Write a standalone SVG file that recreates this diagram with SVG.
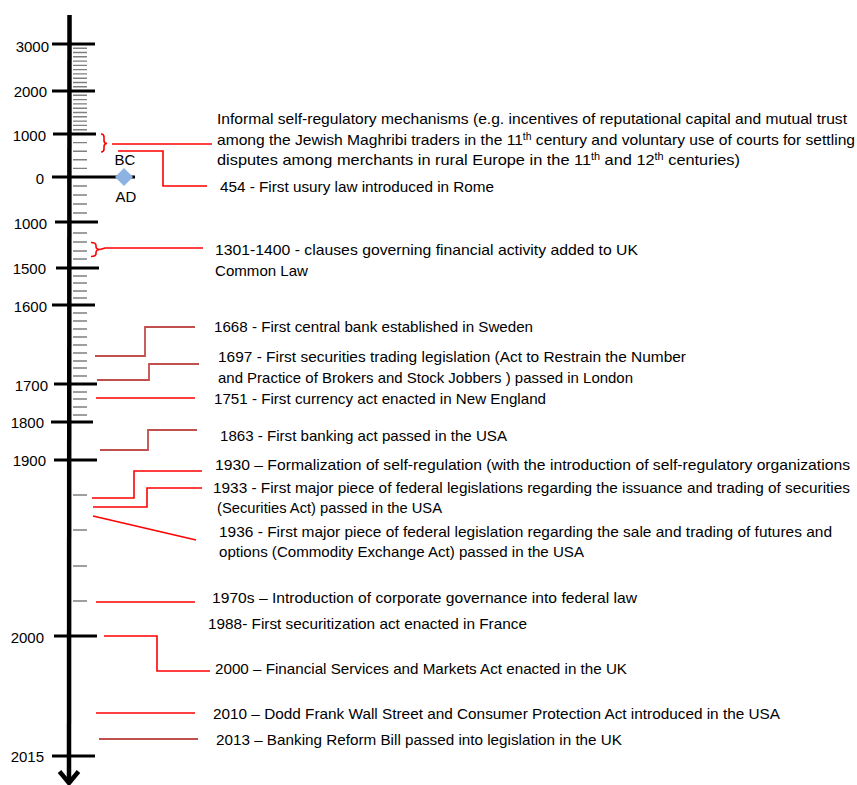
<svg xmlns="http://www.w3.org/2000/svg" width="857" height="785" viewBox="0 0 857 785">
<style>
.t{font-family:"Liberation Sans",Arial,sans-serif;font-size:15px;fill:#000}
.lbl{font-family:"Liberation Sans",Arial,sans-serif;font-size:15px;fill:#000;text-anchor:end}
.major{stroke:#000;stroke-width:3;fill:none}
.minor{stroke:#808080;stroke-width:1.4;fill:none}
.c{stroke:#ff0000;stroke-width:1.6;fill:none}
.cd{stroke:#c0504d;stroke-width:1.8;fill:none}
.sup{font-size:10px}
</style>
<rect width="857" height="785" fill="#fff"/>
<g id="axis">
<g id="minor-ticks" class="minor">
<path d="M73,48.3H87M73,52.5H87M73,56.8H87M73,61.1H87M73,65.4H87M73,69.6H87M73,73.9H87M73,78.2H87M73,82.5H87M73,86.7H87"/>
<path d="M73,95.3H87M73,99.6H87M73,103.9H87M73,108.2H87M73,112.5H87M73,116.8H87M73,121.1H87M73,125.4H87M73,129.7H87"/>
<path d="M73,142.6H87M73,151.2H87M73,159.8H87M73,168.4H87"/>
<path d="M73,186H87M73,195H87M73,204H87M73,213H87"/>
<path d="M73,233H87M73,242H87M73,251H87M73,259H87"/>
<path d="M73,276H87M73,283H87M73,291H87M73,298H87"/>
<path d="M73,313H87M73,321H87M73,329H87M73,337H87M73,345H87M73,353H87M73,361H87M73,368H87M73,376H87"/>
<path d="M73,392H87M73,399H87M73,407H87M73,415H87"/>
<path d="M73,495H87M73,530H87M73,566H87M73,601H87"/>
</g>
<g id="major-ticks" class="major">
<path d="M52,44H95M52,91H95M53,134H96M52,177H135M55,222H98M56,268H99M52,305H95M54,384H97M51,422H93M54,460H97M54,636H97M52,756H95"/>
</g>
<line x1="69.5" y1="15" x2="69" y2="781" stroke="#000" stroke-width="4.5"/>
<path d="M59.5,771.5L69,783L78.5,771.5" fill="none" stroke="#000" stroke-width="4.5" stroke-linejoin="miter"/>
<polygon id="bc-ad-marker" points="124,168 133,177 124,186 115,177" fill="#8db3e2"/>
<g id="axis-labels">
<text class="lbl" x="49" y="52">3000</text>
<text class="lbl" x="47" y="97">2000</text>
<text class="lbl" x="46" y="141">1000</text>
<text class="lbl" x="44" y="184">0</text>
<text class="lbl" x="47" y="229">1000</text>
<text class="lbl" x="46" y="274">1500</text>
<text class="lbl" x="47" y="312">1600</text>
<text class="lbl" x="48" y="391">1700</text>
<text class="lbl" x="44" y="428">1800</text>
<text class="lbl" x="46" y="466">1900</text>
<text class="lbl" x="44" y="643">2000</text>
<text class="lbl" x="44" y="762">2015</text>
<text class="t" x="125" y="165" text-anchor="middle">BC</text>
<text class="t" x="126" y="202" text-anchor="middle">AD</text>
</g>
</g>
<g id="connectors">
<path class="c" d="M101,134Q104,134 104,137L104,140.5Q104,143.5 107,143.5Q104,143.5 104,146.5L104,149Q104,152 101,152"/>
<path class="c" d="M112,144H212"/>
<path class="c" d="M118,151H163V186H207"/>
<path class="c" d="M91,242.5Q96,242.5 96,245.5L96,246.5Q96,249.5 100,249.5Q96,249.5 96,252.5L96,253.5Q96,256.5 91,256.5"/>
<path class="c" d="M100,249.5L105,248H203"/>
<path class="cd" d="M95,356H145V327H195"/>
<path class="cd" d="M97,380H149V364H199"/>
<path class="c" d="M96,398H195"/>
<path class="cd" d="M100,450H148V430H197"/>
<path class="c" d="M92,498H134V471H202"/>
<path class="c" d="M93,507H147V488H202"/>
<path class="c" d="M93,516L196,540"/>
<path class="c" d="M96,602H195"/>
<path class="c" d="M104,636H157V671H210"/>
<path class="c" d="M96,713H195"/>
<path class="cd" d="M99,739H198"/>
</g>
<g id="event-informal">
<text class="t" x="217" y="124" textLength="630" lengthAdjust="spacingAndGlyphs">Informal self-regulatory mechanisms (e.g. incentives of reputational capital and mutual trust</text>
<text class="t" x="217" y="145" textLength="638" lengthAdjust="spacingAndGlyphs">among the Jewish  Maghribi traders in the 11<tspan class="sup" dy="-5">th</tspan><tspan dy="5"> century and voluntary use of courts for settling</tspan></text>
<text class="t" x="217" y="165" textLength="523" lengthAdjust="spacingAndGlyphs">disputes among merchants in rural Europe in the 11<tspan class="sup" dy="-5">th</tspan><tspan dy="5"> and 12</tspan><tspan class="sup" dy="-5">th</tspan><tspan dy="5"> centuries)</tspan></text>
</g>
<g id="event-454"><text class="t" x="220" y="192" textLength="274" lengthAdjust="spacingAndGlyphs">454 - First usury law introduced in Rome</text></g>
<g id="event-1301">
<text class="t" x="215" y="255" textLength="423" lengthAdjust="spacingAndGlyphs">1301-1400 - clauses governing financial activity added to UK</text>
<text class="t" x="215" y="276" textLength="93" lengthAdjust="spacingAndGlyphs">Common Law</text>
</g>
<g id="event-1668"><text class="t" x="214" y="332" textLength="319" lengthAdjust="spacingAndGlyphs">1668 - First central bank established in Sweden</text></g>
<g id="event-1697">
<text class="t" x="218" y="362" textLength="468" lengthAdjust="spacingAndGlyphs">1697 - First securities trading legislation (Act to Restrain the Number</text>
<text class="t" x="218" y="383" textLength="415" lengthAdjust="spacingAndGlyphs">and Practice of Brokers and Stock Jobbers ) passed in London</text>
</g>
<g id="event-1751"><text class="t" x="214" y="404" textLength="332" lengthAdjust="spacingAndGlyphs">1751 - First currency act enacted in New England</text></g>
<g id="event-1863"><text class="t" x="220" y="441" textLength="287" lengthAdjust="spacingAndGlyphs">1863 - First banking act passed in the USA</text></g>
<g id="event-1930"><text class="t" x="215" y="470" textLength="635" lengthAdjust="spacingAndGlyphs">1930 – Formalization of self-regulation (with the introduction of self-regulatory organizations</text></g>
<g id="event-1933">
<text class="t" x="213" y="493" textLength="637" lengthAdjust="spacingAndGlyphs">1933 - First major piece of federal legislations regarding the issuance and trading of securities</text>
<text class="t" x="217" y="513" textLength="225" lengthAdjust="spacingAndGlyphs">(Securities Act) passed in the USA</text>
</g>
<g id="event-1936">
<text class="t" x="219" y="537" textLength="613" lengthAdjust="spacingAndGlyphs">1936 - First major piece of federal legislation regarding the sale and trading of futures and</text>
<text class="t" x="219" y="557" textLength="365" lengthAdjust="spacingAndGlyphs">options (Commodity Exchange Act) passed in the USA</text>
</g>
<g id="event-1970s"><text class="t" x="212" y="603" textLength="425" lengthAdjust="spacingAndGlyphs">1970s – Introduction of corporate governance into federal law</text></g>
<g id="event-1988"><text class="t" x="208" y="629" textLength="319" lengthAdjust="spacingAndGlyphs">1988- First securitization act enacted in France</text></g>
<g id="event-2000"><text class="t" x="215" y="674" textLength="412" lengthAdjust="spacingAndGlyphs">2000 – Financial Services and Markets Act enacted in the UK</text></g>
<g id="event-2010"><text class="t" x="213" y="719" textLength="567" lengthAdjust="spacingAndGlyphs">2010 – Dodd Frank Wall Street and Consumer Protection Act introduced in the USA</text></g>
<g id="event-2013"><text class="t" x="216" y="745" textLength="406" lengthAdjust="spacingAndGlyphs">2013 – Banking Reform Bill passed into legislation in the UK</text></g>
</svg>
